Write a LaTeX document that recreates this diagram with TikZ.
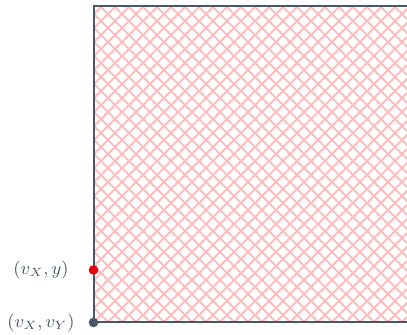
\documentclass[tikz,border=0pt]{standalone}
\usepackage{xcolor}
\usepackage{tikz}
\usepackage{amsmath}
\definecolor{ardesia}{HTML}{4A5568}
\definecolor{rosa}{HTML}{FFBDBD}
\definecolor{rosso}{HTML}{E8000B}

\begin{document}
\begin{tikzpicture}[x=0.5pt, y=0.5pt,
      cornice/.style={draw=ardesia, line width=1pt},
      tratteggio/.style={draw=rosa, line width=0.9pt},
      punto/.style={circle, inner sep=0pt, minimum size=4.8pt},
      etichetta/.style={text=ardesia, inner sep=0pt, font=\small}
    ]
    \clip (0,0) rectangle (407,335);
    % Area tratteggiata
    \begin{scope}
      \clip (94,13) rectangle (420,329);
      \foreach \k in {-25,...,50} {
        \draw[tratteggio] (94+14*\k,13) -- ++(340,340);
        \draw[tratteggio] (94+14*\k,13) -- ++(-340,340);
      }
    \end{scope}
    % Bordi
    \draw[cornice] (420,329) -- (94,329) -- (94,13) -- (420,13);
    % Punti
    \node[punto, fill=rosso] (vy) at (93.5,65) {};
    \node[punto, fill=ardesia] (vv) at (93.5,12.5) {};
    % Etichette
    \node[etichetta] (lvy) at (41,65) {$(v_X, y)$};
    \node[etichetta] (lvv) at (41,12) {$(v_X, v_Y)$};
  \end{tikzpicture}
\end{document}
